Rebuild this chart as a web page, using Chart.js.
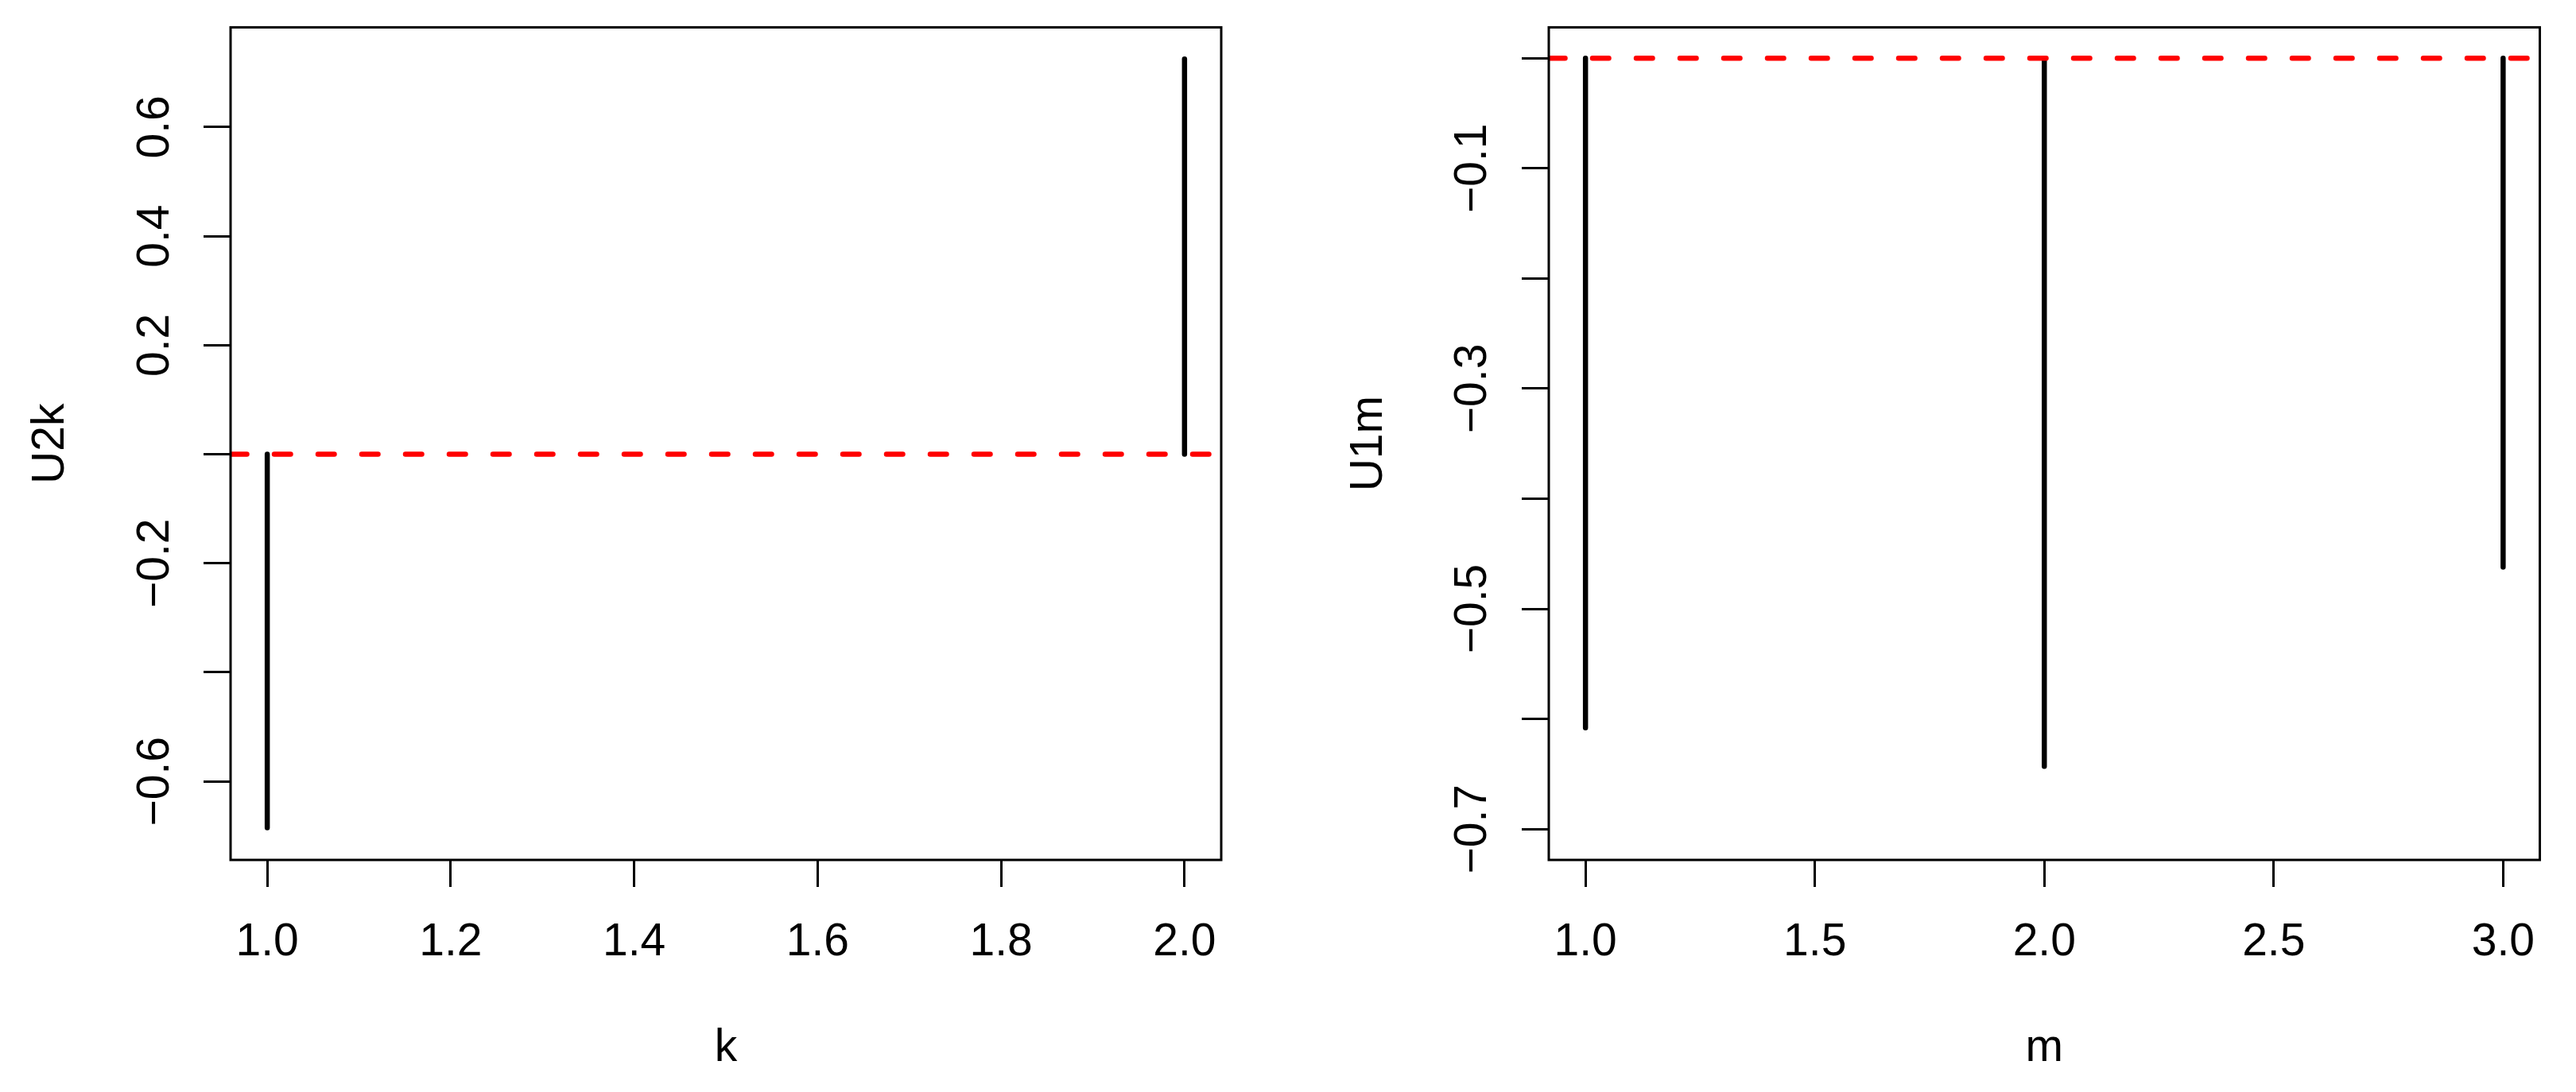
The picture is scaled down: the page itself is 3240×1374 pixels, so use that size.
<!DOCTYPE html>
<html>
<head>
<meta charset="utf-8">
<script src="https://cdn.jsdelivr.net/npm/chart.js@4.4.1/dist/chart.umd.min.js"></script>
<style>
html,body{margin:0;padding:0;background:#fff;}
#wrap{position:relative;width:3240px;height:1374px;background:#fff;}
canvas{position:absolute;top:0;}
</style>
</head>
<body>
<div id="wrap">
<canvas id="c1" width="1620" height="1374" style="left:0px"></canvas>
<canvas id="c2" width="1620" height="1374" style="left:1620px"></canvas>
</div>
<script>
// ---------- data ----------
const kValues = [1, 2];
const u2kValues = [-0.685, 0.725];
const mValues = [1, 2, 3];
const u1mValues = [-0.608, -0.643, -0.462];
const refLineValue = 0;

const kTicks = [1.0, 1.2, 1.4, 1.6, 1.8, 2.0];
const kTickLabels = ['1.0', '1.2', '1.4', '1.6', '1.8', '2.0'];
const mTicks = [1.0, 1.5, 2.0, 2.5, 3.0];
const mTickLabels = ['1.0', '1.5', '2.0', '2.5', '3.0'];
const u2kTicks = [-0.6, -0.4, -0.2, 0, 0.2, 0.4, 0.6];
const u2kTickLabels = ['\u22120.6', '', '\u22120.2', '', '0.2', '0.4', '0.6'];
const u1mTicks = [-0.7, -0.6, -0.5, -0.4, -0.3, -0.2, -0.1, 0];
const u1mTickLabels = ['\u22120.7', '', '\u22120.5', '', '\u22120.3', '', '\u22120.1', ''];

// ---------- styling ----------
const FONT = "'Liberation Sans', Arial, Helvetica, sans-serif";
const FS = 57;

function measureWidest(labels) {
  const c = document.createElement('canvas').getContext('2d');
  c.font = 'normal ' + FS + 'px ' + FONT;
  return Math.max(...labels.map(l => c.measureText(l).width));
}

const boxPlugin = {
  id: 'box',
  afterDatasetsDraw(chart) {
    const {ctx, chartArea: a} = chart;
    ctx.save();
    ctx.strokeStyle = '#000';
    ctx.lineWidth = 3;
    ctx.strokeRect(a.left, a.top, a.right - a.left, a.bottom - a.top);
    ctx.restore();
  }
};

function makePanel(p) {
  const stems = p.xs.map((x, i) => ({
    data: [{x: x, y: refLineValue}, {x: x, y: p.ys[i]}],
    showLine: true,
    borderColor: '#000',
    borderWidth: 6.5,
    borderCapStyle: 'round',
    pointRadius: 0,
    order: 1
  }));
  const ref = {
    data: [{x: p.xRange[0], y: refLineValue}, {x: p.xRange[1], y: refLineValue}],
    showLine: true,
    borderColor: '#ff0000',
    borderWidth: 6.5,
    borderDash: [20.5, 34.5],
    borderCapStyle: 'round',
    pointRadius: 0,
    order: 0
  };
  const widest = measureWidest(p.yLabels);
  const yPad = (p.yAxisWidth - 34 - p.yLabelCenter) - widest / 2;

  return new Chart(document.getElementById(p.id), {
    type: 'scatter',
    data: {datasets: stems.concat([ref])},
    plugins: [boxPlugin],
    options: {
      responsive: false,
      animation: false,
      devicePixelRatio: 1,
      layout: {padding: {left: 0, right: p.rightPad, top: 34.4, bottom: 0}},
      plugins: {legend: {display: false}, tooltip: {enabled: false}},
      scales: {
        x: {
          type: 'linear',
          min: p.xRange[0],
          max: p.xRange[1],
          afterBuildTicks: s => { s.ticks = p.xTicks.map(v => ({value: v})); },
          afterFit: s => { s.height = 292; s.paddingLeft = 0; s.paddingRight = 0; },
          ticks: {
            autoSkip: false, minRotation: 0, maxRotation: 0,
            padding: 36.5, color: '#000',
            font: {size: FS, family: FONT},
            callback: (v, i) => p.xLabels[i]
          },
          grid: {drawOnChartArea: false, drawTicks: true, tickLength: 34, tickWidth: 3, tickColor: '#000'},
          border: {display: false},
          title: {
            display: true, text: p.xTitle, color: '#000',
            font: {size: FS, family: FONT},
            padding: {top: 0, bottom: 20.5}
          }
        },
        y: {
          type: 'linear',
          min: p.yRange[0],
          max: p.yRange[1],
          afterBuildTicks: s => { s.ticks = p.yTicks.map(v => ({value: v})); },
          afterFit: s => { s.width = p.yAxisWidth; s.paddingTop = 0; s.paddingBottom = 0; },
          ticks: {
            autoSkip: false, minRotation: 90, maxRotation: 90,
            crossAlign: 'center',
            padding: yPad, color: '#000',
            font: {size: FS, family: FONT},
            callback: (v, i) => p.yLabels[i]
          },
          grid: {drawOnChartArea: false, drawTicks: true, tickLength: 34, tickWidth: 3, tickColor: '#000'},
          border: {display: false},
          title: {
            display: true, text: p.yTitle, color: '#000',
            font: {size: FS, family: FONT},
            padding: {top: p.yTitlePad, bottom: 0}
          }
        }
      }
    }
  });
}

makePanel({
  id: 'c1',
  xs: kValues, ys: u2kValues,
  xTicks: kTicks, xLabels: kTickLabels,
  yTicks: u2kTicks, yLabels: u2kTickLabels,
  xRange: [0.96, 2.04], yRange: [-0.744, 0.783],
  xTitle: 'k', yTitle: 'U2k',
  yAxisWidth: 290, rightPad: 84,
  yLabelCenter: 196.2, yTitlePad: 30.5
});

makePanel({
  id: 'c2',
  xs: mValues, ys: u1mValues,
  xTicks: mTicks, xLabels: mTickLabels,
  yTicks: u1mTicks, yLabels: u1mTickLabels,
  xRange: [0.92, 3.08], yRange: [-0.728, 0.028],
  xTitle: 'm', yTitle: 'U1m',
  yAxisWidth: 328, rightPad: 45.5,
  yLabelCenter: 233.3, yTitlePad: 67.9
});
</script>
</body>
</html>
